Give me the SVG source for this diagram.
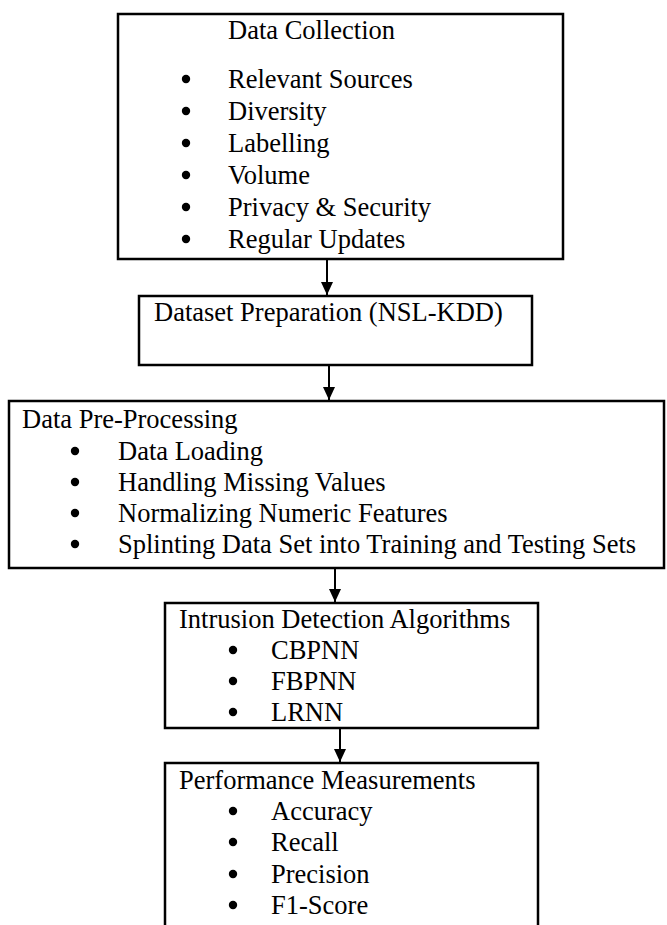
<svg xmlns="http://www.w3.org/2000/svg" width="667" height="925" viewBox="0 0 667 925">
<defs>
<style>
.box{fill:none;stroke:#000;stroke-width:2.5}
.t{font-family:"Liberation Serif","Times New Roman",serif;font-size:26.5px;fill:#000}
.b{fill:#000}
.c{stroke:#000;stroke-width:2;fill:none}
</style>
<marker id="ah" markerWidth="13" markerHeight="12" refX="13" refY="6" orient="auto" markerUnits="userSpaceOnUse" viewBox="0 0 13 12">
<path d="M0,0 L13,6 L0,12 z" fill="#000"/>
</marker>
</defs>
<rect width="667" height="925" fill="#fff"/>
<g id="data-collection">
<rect class="box" x="118" y="14" width="445" height="245"/>
<text class="t" x="228" y="39">Data Collection</text>
<circle class="b" cx="186" cy="79" r="4.2"/><text class="t" x="228" y="88">Relevant Sources</text>
<circle class="b" cx="186" cy="111" r="4.2"/><text class="t" x="228" y="120">Diversity</text>
<circle class="b" cx="186" cy="143" r="4.2"/><text class="t" x="228" y="152">Labelling</text>
<circle class="b" cx="186" cy="175" r="4.2"/><text class="t" x="228" y="184">Volume</text>
<circle class="b" cx="186" cy="207" r="4.2"/><text class="t" x="228" y="216">Privacy &amp; Security</text>
<circle class="b" cx="186" cy="239" r="4.2"/><text class="t" x="228" y="248">Regular Updates</text>
</g>
<g id="dataset-preparation">
<rect class="box" x="139" y="296" width="393" height="69"/>
<text class="t" x="154" y="321">Dataset Preparation (NSL-KDD)</text>
</g>
<g id="pre-processing">
<rect class="box" x="9" y="401" width="655" height="167"/>
<text class="t" x="22" y="428">Data Pre-Processing</text>
<circle class="b" cx="75" cy="451" r="4.2"/><text class="t" x="118" y="460">Data Loading</text>
<circle class="b" cx="75" cy="482" r="4.2"/><text class="t" x="118" y="491">Handling Missing Values</text>
<circle class="b" cx="75" cy="513" r="4.2"/><text class="t" x="118" y="522">Normalizing Numeric Features</text>
<circle class="b" cx="75" cy="544" r="4.2"/><text class="t" x="118" y="553">Splinting Data Set into Training and Testing Sets</text>
</g>
<g id="intrusion-detection">
<rect class="box" x="165" y="603" width="373" height="125"/>
<text class="t" x="179" y="628">Intrusion Detection Algorithms</text>
<circle class="b" cx="233" cy="650" r="4.2"/><text class="t" x="271" y="659">CBPNN</text>
<circle class="b" cx="233" cy="681" r="4.2"/><text class="t" x="271" y="690">FBPNN</text>
<circle class="b" cx="233" cy="712" r="4.2"/><text class="t" x="271" y="721">LRNN</text>
</g>
<g id="performance">
<path class="box" d="M165,930 V763 H538 V930"/>
<text class="t" x="179" y="789">Performance Measurements</text>
<circle class="b" cx="233" cy="811" r="4.2"/><text class="t" x="271" y="820">Accuracy</text>
<circle class="b" cx="233" cy="842" r="4.2"/><text class="t" x="271" y="851">Recall</text>
<circle class="b" cx="233" cy="874" r="4.2"/><text class="t" x="271" y="883">Precision</text>
<circle class="b" cx="233" cy="905" r="4.2"/><text class="t" x="271" y="914">F1-Score</text>
</g>
<g id="connectors">
<line class="c" x1="327" y1="260" x2="327" y2="295" marker-end="url(#ah)"/>
<line class="c" x1="329" y1="366" x2="329" y2="400" marker-end="url(#ah)"/>
<line class="c" x1="335" y1="569" x2="335" y2="602" marker-end="url(#ah)"/>
<line class="c" x1="340" y1="729" x2="340" y2="762" marker-end="url(#ah)"/>
</g>
</svg>
